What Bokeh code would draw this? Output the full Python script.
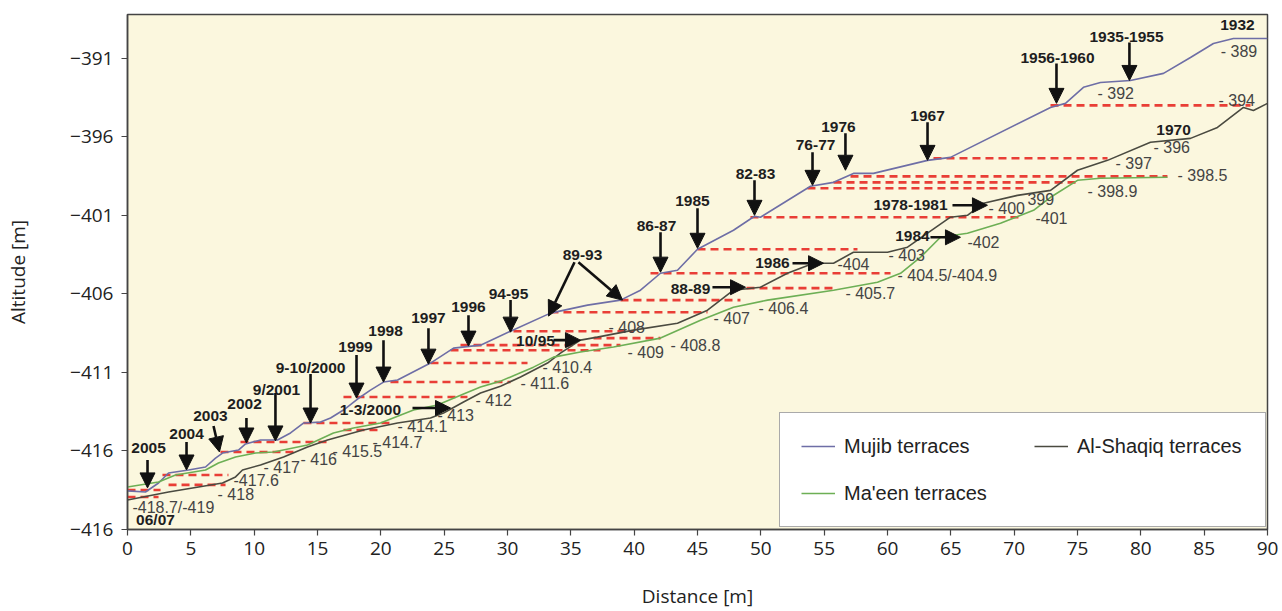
from bokeh.plotting import figure
from bokeh.models import ColumnDataSource, Range1d, FixedTicker, Arrow, NormalHead
from bokeh.core.properties import value
from bokeh.embed import file_html
from bokeh.resources import INLINE

# ---------------- data ----------------
mujib_x = [0, 1.42, 2.45, 3.24, 4.82, 6.16, 6.95, 7.50, 8.76, 9.32, 10.50, 11.84, 12.87, 13.89, 15.24,
           16.03, 17.05, 18.16, 19.18, 20.21, 21.32, 23.92, 25.74, 27.87, 30.24, 33.39, 36.32, 38.92,
           40.50, 42.08, 43.42, 45.00, 47.84, 49.50, 49.97, 53.92, 55.74, 57.31, 58.89, 63.16, 64.97,
           72.87, 74.05, 75.47, 76.81, 79.18, 81.79, 83.92, 85.73, 87.31, 90]
mujib_y = [-418.54, -418.61, -418.04, -417.40, -417.21, -417.02, -416.45, -416.13, -415.94, -415.55,
           -415.30, -415.30, -414.85, -414.22, -414.16, -413.90, -413.39, -412.69, -412.12, -411.61,
           -411.48, -410.40, -409.45, -409.26, -408.37, -407.22, -406.71, -406.39, -405.76, -404.68,
           -404.49, -403.15, -401.94, -401.05, -401.11, -399.14, -398.89, -398.32, -398.32, -397.49,
           -397.30, -394.12, -393.86, -392.84, -392.53, -392.40, -391.95, -390.94, -390.05, -389.73,
           -389.73]

shaqiq_x = [0, 3.24, 5.61, 7.50, 8.53, 9.08, 10.50, 12.32, 14.21, 15.79, 18.63, 21.32, 23.92, 24.95,
            26.53, 27.87, 29.45, 31.03, 33.16, 34.18, 35.76, 37.10, 39.95, 43.42, 45.79, 47.84, 49.97,
            52.10, 54.16, 55.74, 57.31, 60.00, 61.58, 63.16, 64.97, 66.31, 67.58, 70.26, 72.87, 75.00,
            77.37, 80.76, 83.92, 86.05, 88.10, 88.89, 90]
shaqiq_y = [-419.12, -418.61, -418.29, -418.04, -417.65, -417.21, -416.89, -416.38, -415.75, -415.30,
            -414.66, -414.22, -413.90, -413.58, -412.88, -412.31, -411.87, -411.29, -410.40, -409.77,
            -408.94, -408.75, -408.30, -407.86, -407.03, -405.76, -405.57, -404.68, -404.04, -404.04,
            -403.34, -403.34, -403.02, -402.13, -401.11, -400.99, -400.22, -399.72, -399.40, -398.12,
            -397.49, -396.34, -396.09, -395.39, -394.12, -394.31, -393.86]

maeen_x = [0, 2.45, 3.79, 6.16, 7.18, 8.53, 10.11, 11.53, 14.21, 16.26, 17.84, 19.97, 22.58, 24.47,
           26.53, 27.87, 29.45, 30.79, 32.05, 33.63, 35.76, 38.37, 42.08, 45.24, 47.84, 50.53, 55.74,
           59.21, 61.03, 62.61, 64.18, 66.31, 68.92, 71.53, 72.87, 75.00, 76.81, 82.10]
maeen_y = [-418.29, -417.97, -417.53, -417.21, -416.76, -416.38, -416.13, -416.06, -415.62, -414.85,
           -414.54, -414.22, -413.39, -413.07, -412.37, -411.93, -411.55, -411.10, -410.66, -410.02,
           -409.70, -409.38, -408.81, -407.67, -406.84, -406.39, -405.76, -405.25, -404.68, -403.66,
           -402.39, -402.13, -401.50, -400.67, -399.84, -398.76, -398.63, -398.57]

# terrace levels (red dashed)
level_y = [-393.99, -397.36, -398.51, -398.89, -399.27, -401.11, -403.15, -404.68, -405.63, -406.39,
           -407.16, -408.37, -408.81, -409.26, -409.58, -410.40, -411.61, -412.56, -414.22, -414.66,
           -415.43, -416.06, -417.53, -418.16, -418.48, -418.93]
level_x0 = [72.87, 63.63, 57.08, 55.74, 53.68, 49.18, 45.00, 41.29, 47.84, 38.92, 33.39, 30.47, 36.79,
            26.29, 25.50, 23.92, 20.76, 17.05, 13.89, 17.05, 8.92, 7.34, 2.76, 3.24, 0, 0]
level_x1 = [88.66, 77.37, 82.10, 75.00, 70.74, 70.66, 57.63, 60.24, 55.74, 48.39, 45.79, 39.95, 42.08,
            38.92, 37.34, 31.58, 30.24, 26.84, 21.00, 19.97, 16.03, 13.42, 7.97, 7.74, 2.61, 2.45]

# year labels
year_text = ["2005", "2004", "2003", "2002", "9/2001", "9-10/2000", "1999", "1998", "1997", "1996",
             "94-95", "89-93", "86-87", "1985", "82-83", "76-77", "1976", "1967", "1956-1960",
             "1935-1955", "1932", "1970", "1978-1981", "1984", "1986", "88-89", "10/95", "1-3/2000",
             "06/07"]
year_x = [1.66, 4.66, 6.55, 9.24, 11.76, 14.45, 18.00, 20.37, 23.76, 26.92, 30.08, 35.92, 41.76,
          44.60, 49.58, 54.32, 56.13, 63.16, 73.42, 78.87, 87.63, 82.58, 61.82, 61.97, 50.92, 44.45,
          32.21, 19.18, 2.21]
year_y = [-415.81, -414.92, -413.77, -413.01, -412.06, -410.66, -409.38, -408.37, -407.54, -406.84,
          -406.01, -403.53, -401.69, -400.10, -398.38, -396.53, -395.39, -394.69, -390.94, -389.66,
          -388.90, -395.58, -400.35, -402.32, -404.04, -405.69, -408.94, -413.33, -420.39]

# altitude labels
alt_text = ["- 389", "- 392", "- 394", "- 396", "- 397", "- 398.5", "- 398.9", "399", "- 400", "-401",
            "-402", "- 403", "-404", "- 404.5/-404.9", "- 405.7", "- 406.4", "- 407", "- 408",
            "- 408.8", "- 409", "- 410.4", "- 411.6", "- 412", "- 413", "- 414.1", "- 414.7",
            "- 415.5", "- 416", "- 417", "-417.6", "- 418", "-418.7/-419"]
alt_x = [86.31, 76.58, 86.13, 81.00, 78.00, 82.90, 75.79, 71.05, 67.97, 71.68, 66.31, 60.08, 56.05,
         60.79, 56.68, 49.82, 46.26, 37.97, 42.87, 39.47, 32.76, 31.03, 27.47, 24.47, 21.32, 19.34,
         16.18, 13.66, 10.74, 8.37, 7.11, 0.39]
alt_y = [-390.55, -393.23, -393.67, -396.66, -397.68, -398.44, -399.46, -399.97, -400.54, -401.18,
         -402.70, -403.53, -404.10, -404.80, -405.95, -406.90, -407.54, -408.11, -409.26, -409.70,
         -410.66, -411.67, -412.76, -413.71, -414.47, -415.43, -416.06, -416.57, -417.08, -417.84,
         -418.80, -419.63]

# arrows (start -> tip)
arrow_x0 = [1.58, 4.66, 6.79, 9.39, 11.68, 14.45, 18.08, 20.21, 23.76, 26.92, 30.24, 35.29, 35.60,
            42.08, 45.00, 49.50, 54.08, 56.68, 63.16, 73.34, 79.10,
            65.13, 63.39, 52.50, 46.18, 33.63, 22.50]
arrow_y0 = [-416.57, -415.43, -414.41, -413.90, -412.31, -411.10, -409.89, -408.94, -408.18, -407.35,
            -406.39, -403.98, -403.98, -402.07, -400.54, -398.76, -396.98, -395.77, -395.07, -391.32,
            -389.98,
            -400.35, -402.39, -404.04, -405.57, -408.94, -413.26]
arrow_x1 = [1.58, 4.66, 7.26, 9.39, 11.68, 14.45, 18.08, 20.21, 23.76, 26.92, 30.24, 33.24, 39.08,
            42.08, 45.00, 49.50, 54.08, 56.68, 63.16, 73.34, 79.10,
            67.89, 65.76, 54.95, 48.79, 35.76, 25.50]
arrow_y1 = [-418.35, -417.21, -416.06, -415.49, -415.36, -414.22, -412.63, -411.61, -410.47, -409.32,
            -408.43, -407.41, -406.39, -404.61, -403.09, -400.99, -399.08, -398.12, -397.49, -393.86,
            -392.40,
            -400.35, -402.39, -404.04, -405.57, -408.94, -413.26]

x_ticks = [0, 5, 10, 15, 20, 25, 30, 35, 40, 45, 50, 55, 60, 65, 70, 75, 80, 85, 90]
y_ticks = [-421, -416, -411, -406, -401, -396, -391]
y_tick_labels = ["\u2212416", "\u2212416", "\u2212411", "\u2212406", "\u2212401", "\u2212396", "\u2212391"]

series_names = ["Mujib terraces", "Al-Shaqiq terraces", "Ma'een terraces"]

# ---------------- figure ----------------
p = figure(width=1280, height=611, output_backend="svg", toolbar_location=None,
           x_range=Range1d(0, 90), y_range=Range1d(-421, -388.2),
           min_border_left=127, min_border_right=13, min_border_top=14, min_border_bottom=81)
p.grid.visible = False
p.background_fill_color = "#FBF7DE"
p.border_fill_color = "white"
p.outline_line_color = "#444444"
p.outline_line_width = 1.5

for ax in (p.xaxis, p.yaxis):
    ax.axis_line_color = "#444444"
    ax.axis_line_width = 1.5
    ax.major_tick_line_color = "#444444"
    ax.major_tick_line_width = 1.2
    ax.major_tick_out = 6
    ax.major_tick_in = 0
    ax.minor_tick_line_color = None
    ax.major_label_text_font = "Open Sans"
    ax.major_label_text_font_size = "19px"
    ax.major_label_text_color = "#222222"
    ax.axis_label_text_font = "Open Sans"
    ax.axis_label_text_font_size = "19px"
    ax.axis_label_text_font_style = "normal"
    ax.axis_label_text_color = "#222222"

p.xaxis.ticker = FixedTicker(ticks=x_ticks)
p.yaxis.ticker = FixedTicker(ticks=y_ticks)
p.yaxis.major_label_overrides = {t: l for t, l in zip(y_ticks, y_tick_labels)}
p.xaxis.axis_label = "Distance [m]"
p.yaxis.axis_label = "Altitude [m]"
p.xaxis.major_label_standoff = 6
p.xaxis.axis_label_standoff = 25
p.yaxis.major_label_standoff = 8
p.yaxis.axis_label_standoff = 36

# terrace levels
p.segment(x0=level_x0, y0=level_y, x1=level_x1, y1=level_y, line_color="#E8342C",
          line_width=2.6, line_dash="8 5", line_alpha=0.95)

# profiles
p.line(mujib_x, mujib_y, line_color="#6E6EA6", line_width=1.6, legend_label=series_names[0])
p.line(shaqiq_x, shaqiq_y, line_color="#4A4A40", line_width=1.6, legend_label=series_names[1])
p.line(maeen_x, maeen_y, line_color="#6DAF55", line_width=1.6, legend_label=series_names[2])

# arrows
asrc = ColumnDataSource(dict(x0=arrow_x0, y0=arrow_y0, x1=arrow_x1, y1=arrow_y1))
p.add_layout(Arrow(x_start="x0", y_start="y0", x_end="x1", y_end="y1", source=asrc,
                   line_color="#111111", line_width=2.6,
                   end=NormalHead(size=15, fill_color="#111111", line_color="#111111")))

# labels
p.text(x=year_x, y=year_y, text=year_text, text_align="center", text_baseline="middle",
       text_font=value("Liberation Sans"), text_font_style="bold", text_font_size="15.5px",
       text_color="#1E1E1E")
p.text(x=alt_x, y=alt_y, text=alt_text, text_align="left", text_baseline="middle",
       text_font=value("Liberation Sans"), text_font_size="16px", text_color="#444444")

# legend (column-major fill: Mujib, Ma'een | Al-Shaqiq)
lg = p.legend[0]
its = list(lg.items)
lg.items = [its[0], its[2], its[1]]
lg.location = (652, 2)
lg.ncols = 2
lg.margin = 0
lg.padding = 21
lg.spacing = 23
lg.glyph_width = 34
lg.glyph_height = 24
lg.label_height = 24
lg.label_width = 167
lg.label_standoff = 9
lg.label_text_font = "Liberation Sans"
lg.label_text_font_size = "20px"
lg.label_text_color = "#222222"
lg.border_line_color = "#555555"
lg.border_line_width = 1.5
lg.background_fill_color = "white"
lg.background_fill_alpha = 1.0

open("out.html", "w").write(file_html(p, INLINE))
